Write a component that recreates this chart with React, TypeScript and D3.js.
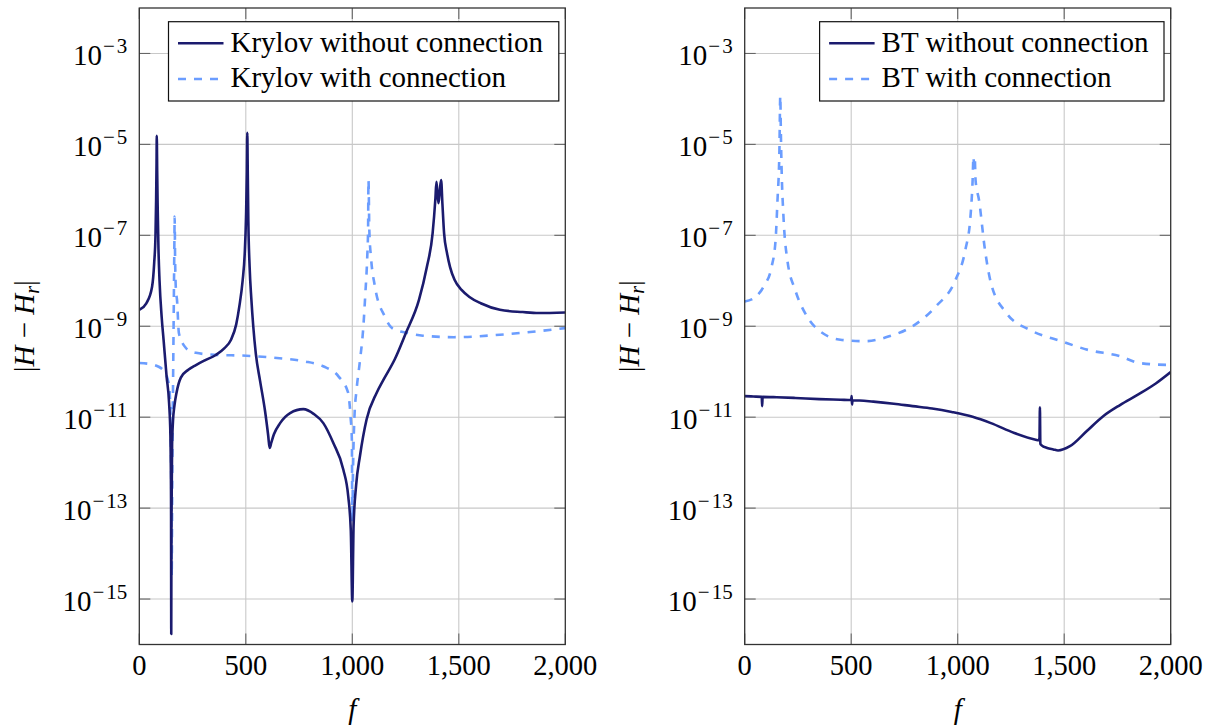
import * as d3 from "d3"

// frequency grid and error values (|H - H_r|)
const krylovWithoutF = [0, 33, 60, 70, 76, 79, 81, 82, 84, 86, 90, 95, 105, 114, 128, 140, 146, 149, 150, 151, 154, 158, 165, 175, 195, 230, 266, 310, 357, 400, 430, 455, 470, 485, 495, 501, 505, 507, 509, 512, 518, 526, 535, 547, 567, 590, 605, 612, 620, 632, 661, 708, 770, 820, 864, 911, 958, 981, 993, 1000, 1006, 1018, 1036, 1067, 1114, 1146, 1200, 1251, 1313, 1350, 1377, 1390, 1395, 1400, 1405, 1411, 1417, 1423, 1431, 1445, 1459, 1480, 1513, 1550, 1603, 1693, 1800, 1874, 2000]
const krylovWithoutV = [2.3e-9, 3.2e-9, 7.4e-9, 2.5e-8, 1e-7, 6e-7, 4e-6, 1.55e-5, 2.5e-6, 5e-7, 5e-8, 1e-8, 1.6e-9, 5e-10, 8e-11, 2e-11, 4e-12, 1.6e-13, 1.7e-16, 5e-14, 2.5e-12, 8e-12, 1.8e-11, 3.5e-11, 7.4e-11, 1.1e-10, 1.4e-10, 1.8e-10, 2.3e-10, 3.3e-10, 5e-10, 1.1e-9, 2.8e-9, 1e-8, 4e-8, 2.5e-7, 2.5e-6, 1.8e-5, 3e-6, 2e-7, 2e-8, 4e-9, 1e-9, 2.5e-10, 6.3e-11, 1.4e-11, 4e-12, 2.1e-12, 2.8e-12, 4.2e-12, 7.4e-12, 1.23e-11, 1.5e-11, 1.17e-11, 7.4e-12, 2.7e-12, 7e-13, 1.8e-13, 3.2e-14, 8.9e-16, 4e-14, 3.2e-13, 1.4e-12, 8.9e-12, 3.4e-11, 6.6e-11, 1.9e-10, 7e-10, 3.8e-9, 2e-8, 1.1e-7, 6.3e-7, 1.5e-6, 8e-7, 5.1e-7, 1e-6, 1.65e-6, 5e-7, 1.1e-7, 4e-8, 2e-8, 1.05e-8, 6.3e-9, 4.4e-9, 3.2e-9, 2.3e-9, 2.05e-9, 1.95e-9, 2e-9]

const krylovWithF = [0, 50, 86, 110, 123, 135, 140, 145, 148, 150, 152, 155, 158, 161, 163, 165, 166, 168, 172, 177, 186, 213, 240, 266, 357, 502, 646, 772, 863, 935, 980, 992, 998, 1000, 1004, 1010, 1020, 1035, 1052, 1061, 1070, 1074, 1076, 1080, 1088, 1106, 1152, 1187, 1260, 1332, 1477, 1693, 1874, 2000]
const krylovWithV = [1.55e-10, 1.48e-10, 1.32e-10, 1.12e-10, 9.5e-11, 6.3e-11, 4.8e-11, 2e-11, 3.2e-12, 3.2e-13, 3.2e-15, 1e-12, 3.2e-11, 1e-9, 1e-8, 1e-7, 2.6e-7, 3.2e-8, 6.3e-9, 3.8e-9, 7e-10, 3.6e-10, 2.8e-10, 2.6e-10, 2.35e-10, 2.25e-10, 2e-10, 1.7e-10, 1.32e-10, 7.9e-11, 3.5e-11, 1e-11, 3.2e-12, 5.1e-14, 1e-12, 1e-11, 4e-11, 1.6e-10, 1e-9, 5e-9, 3.2e-8, 1.26e-7, 1.66e-6, 1.26e-7, 3.2e-8, 7.6e-9, 1.66e-9, 9.1e-10, 7.1e-10, 6.2e-10, 5.75e-10, 6.5e-10, 7.8e-10, 9.1e-10]

const btWithoutF = [0, 40, 80, 82, 84, 150, 237, 350, 450, 500, 502, 504, 506, 604, 700, 788, 880, 972, 1070, 1156, 1266, 1366, 1380, 1384, 1386, 1388, 1394, 1420, 1449, 1471, 1527, 1605, 1683, 1762, 1850, 1930, 2000]
const btWithoutV = [2.9e-11, 2.85e-11, 2.8e-11, 1.75e-11, 2.8e-11, 2.75e-11, 2.65e-11, 2.5e-11, 2.42e-11, 2.38e-11, 2.9e-11, 1.9e-11, 2.36e-11, 2.2e-11, 1.98e-11, 1.75e-11, 1.55e-11, 1.3e-11, 1.02e-11, 7.4e-12, 4.5e-12, 3.2e-12, 3.1e-12, 3.5e-12, 1.65e-11, 2.6e-12, 2.4e-12, 2.1e-12, 1.95e-12, 1.85e-12, 2.3e-12, 4.9e-12, 1.05e-11, 1.85e-11, 3.2e-11, 5.5e-11, 9.8e-11]

const btWithF = [0, 53, 90, 126, 145, 154, 163, 167, 170, 173, 182, 200, 237, 292, 365, 457, 568, 678, 788, 898, 990, 1036, 1060, 1070, 1074, 1077, 1080, 1084, 1100, 1128, 1156, 1229, 1339, 1486, 1614, 1762, 1853, 2000]
const btWithV = [3.5e-9, 4.5e-9, 7.6e-9, 2e-8, 7.9e-8, 6e-7, 7.6e-6, 1.17e-4, 1.6e-5, 3.2e-6, 2.6e-7, 2.9e-8, 6.3e-9, 1.66e-9, 7.1e-10, 5e-10, 4.7e-10, 6e-10, 1e-9, 2.75e-9, 1.05e-8, 4.8e-8, 2.6e-7, 1.6e-6, 5.4e-6, 3.5e-6, 5e-6, 1.6e-6, 6e-7, 4.8e-8, 8.9e-9, 1.95e-9, 8.3e-10, 4.7e-10, 3e-10, 2.2e-10, 1.55e-10, 1.4e-10]

const xTicks = [0, 500, 1000, 1500, 2000]
const xTickLabels = ["0", "500", "1,000", "1,500", "2,000"]
const yTickExponents = [-15, -13, -11, -9, -7, -5, -3]

const panels = [
  {
    left: 139.3,
    names: ["Krylov without connection", "Krylov with connection"],
    legendRight: 558.8,
    solid: [krylovWithoutF, krylovWithoutV],
    dashed: [krylovWithF, krylovWithV],
  },
  {
    left: 744.7,
    names: ["BT without connection", "BT with connection"],
    legendRight: 1164,
    solid: [btWithoutF, btWithoutV],
    dashed: [btWithF, btWithV],
  },
]

const W = 426
const TOP = 8
const BOTTOM = 644.5
const DARK = "#1b1b6e"
const LIGHT = "#6b9dff"
const FONT = "Liberation Serif"

function Panel({ p, idx }) {
  const x = d3.scaleLinear().domain([0, 2000]).range([p.left, p.left + W])
  const y = d3.scaleLog().domain([1e-16, 1e-2]).range([BOTTOM, TOP])
  const line = d3
    .line<[number, number]>()
    .x(d => x(d[0]))
    .y(d => y(d[1]))
    .curve(d3.curveMonotoneX)
  const pts = (s: number[][]) => s[0].map((f, i) => [f, s[1][i]] as [number, number])
  const clipId = "clip" + idx
  const legLeft = p.legendRight - (idx === 0 ? 390.3 : 344.4)

  return (
    <g>
      <defs>
        <clipPath id={clipId}>
          <rect x={p.left} y={TOP} width={W} height={BOTTOM - TOP} />
        </clipPath>
      </defs>
      {/* grid */}
      {xTicks.slice(1, -1).map(t => (
        <line key={"gx" + t} x1={x(t)} x2={x(t)} y1={TOP} y2={BOTTOM} stroke="#c8c8c8" strokeWidth={1.1} />
      ))}
      {yTickExponents.map(e => (
        <line key={"gy" + e} x1={p.left} x2={p.left + W} y1={y(10 ** e)} y2={y(10 ** e)} stroke="#c8c8c8" strokeWidth={1.1} />
      ))}
      {/* ticks, inward on all sides */}
      {xTicks.map(t => (
        <g key={"tx" + t} stroke="#666" strokeWidth={1.1}>
          <line x1={x(t)} x2={x(t)} y1={BOTTOM} y2={BOTTOM - 11} />
          <line x1={x(t)} x2={x(t)} y1={TOP} y2={TOP + 11} />
        </g>
      ))}
      {yTickExponents.map(e => (
        <g key={"ty" + e} stroke="#666" strokeWidth={1.1}>
          <line x1={p.left} x2={p.left + 11} y1={y(10 ** e)} y2={y(10 ** e)} />
          <line x1={p.left + W} x2={p.left + W - 11} y1={y(10 ** e)} y2={y(10 ** e)} />
        </g>
      ))}
      {/* curves */}
      <g clipPath={`url(#${clipId})`} fill="none">
        <path d={line(pts(p.dashed)) || ""} stroke={LIGHT} strokeWidth={2.6} strokeDasharray="8 8" />
        <path d={line(pts(p.solid)) || ""} stroke={DARK} strokeWidth={2.6} strokeLinejoin="round" />
      </g>
      <rect x={p.left} y={TOP} width={W} height={BOTTOM - TOP} fill="none" stroke="#333" strokeWidth={1.3} />
      {/* tick labels */}
      {xTicks.map((t, i) => (
        <text key={"lx" + t} x={x(t)} y={675} textAnchor="middle" fontSize={28.5} fontFamily={FONT}>
          {xTickLabels[i]}
        </text>
      ))}
      {yTickExponents.map(e => (
        <text key={"ly" + e} x={p.left - 12} y={y(10 ** e) + 12} textAnchor="end" fontSize={29} fontFamily={FONT}>
          10
          <tspan dy={-12} dx={1} fontSize={21}>{"\u2212"}</tspan>
          <tspan dx={2} fontSize={21}>{Math.abs(e)}</tspan>
        </text>
      ))}
      {/* axis labels */}
      <text x={x(1000)} y={719} textAnchor="middle" fontSize={29} fontStyle="italic" fontFamily={FONT}>f</text>
      <text
        transform={`translate(${p.left - 105.5},${(TOP + BOTTOM) / 2}) rotate(-90)`}
        textAnchor="middle"
        fontSize={29}
        fontFamily={FONT}
      >
        |<tspan fontStyle="italic">H</tspan>{" \u2212 "}<tspan fontStyle="italic">H</tspan>
        <tspan fontStyle="italic" fontSize={20} dy={5}>r</tspan>
        <tspan dy={-5}>|</tspan>
      </text>
      {/* legend */}
      <rect x={legLeft} y={21.7} width={p.legendRight - legLeft} height={79.3} fill="white" stroke="#111" strokeWidth={1.2} />
      <line x1={legLeft + 9.5} x2={legLeft + 55} y1={43.3} y2={43.3} stroke={DARK} strokeWidth={2.6} />
      <line x1={legLeft + 9.5} x2={legLeft + 55} y1={79} y2={79} stroke={LIGHT} strokeWidth={2.6} strokeDasharray="8 8" />
      <text x={legLeft + 62} y={52} fontSize={29} fontFamily={FONT}>{p.names[0]}</text>
      <text x={legLeft + 62} y={87} fontSize={29} fontFamily={FONT}>{p.names[1]}</text>
    </g>
  )
}

export default function App() {
  return (
    <svg width={1212} height={728} style={{ position: "absolute", left: 0, top: 0, background: "white" }}>
      {panels.map((p, i) => (
        <Panel key={i} p={p} idx={i} />
      ))}
    </svg>
  )
}
